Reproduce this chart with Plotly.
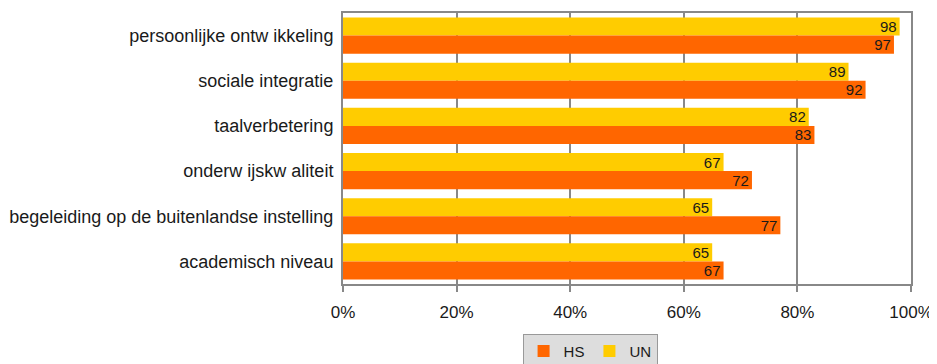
import plotly.graph_objects as go

# categories, top to bottom as shown
categories = ['persoonlijke ontw ikkeling', 'sociale integratie', 'taalverbetering',
              'onderw ijskw aliteit', 'begeleiding op de buitenlandse instelling',
              'academisch niveau']
hs = [97, 92, 83, 72, 77, 67]
un = [98, 89, 82, 67, 65, 65]
tick_vals = [0, 20, 40, 60, 80, 100]
tick_text = ['0%', '20%', '40%', '60%', '80%', '100%']

font = 'Liberation Sans, Arial, sans-serif'

fig = go.Figure()
# y axis is reversed, so the first trace sits on top of each group
fig.add_trace(go.Bar(name='UN', y=categories, x=un, orientation='h', legendrank=2,
                     marker=dict(color='#FFCC00', line=dict(width=0)),
                     text=un, textposition='inside', insidetextanchor='end', textangle=0,
                     textfont=dict(color='#1a1a1a', size=15, family=font)))
fig.add_trace(go.Bar(name='HS', y=categories, x=hs, orientation='h', legendrank=1,
                     marker=dict(color='#FF6600', line=dict(width=0)),
                     text=hs, textposition='inside', insidetextanchor='end', textangle=0,
                     textfont=dict(color='#1a1a1a', size=15, family=font)))

# page body has an 8px margin, so the figure is a bit smaller than the window
fig.update_layout(
    width=929, height=356,
    barmode='group', bargap=0.2, bargroupgap=0,
    plot_bgcolor='white', paper_bgcolor='white',
    margin=dict(l=335, r=26, t=5, b=80),
    font=dict(family=font, size=17, color='#1a1a1a'),
    showlegend=True,
    legend=dict(orientation='h', x=0.435, xanchor='center',
                yref='container', y=0.085, yanchor='top',
                bgcolor='#dddddd', bordercolor='#999999', borderwidth=1,
                font=dict(size=15), itemwidth=30, tracegroupgap=0),
    uniformtext=dict(mode='show', minsize=15),
)
fig.update_xaxes(range=[0, 100], tickvals=tick_vals, ticktext=tick_text, automargin=False,
                 showgrid=True, gridcolor='#888888', gridwidth=1.5,
                 showline=True, linecolor='#888888', linewidth=2, mirror=True,
                 ticks='outside', ticklen=6, tickcolor='#888888', tickwidth=1.5,
                 zeroline=False, tickfont=dict(size=17), ticklabelstandoff=6)
fig.update_yaxes(autorange='reversed', showline=True, linecolor='#888888', linewidth=2,
                 mirror=True, ticks='', automargin=False,
                 tickfont=dict(size=18), ticklabelstandoff=4)

fig.write_html('out.html')
